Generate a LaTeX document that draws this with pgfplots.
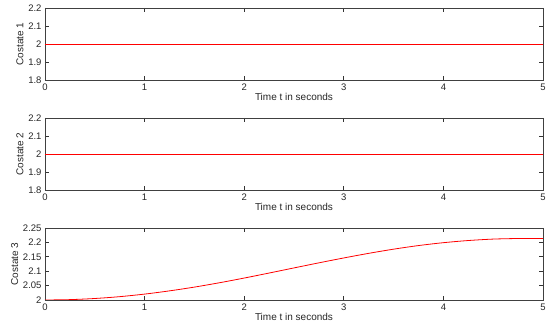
\documentclass[border=0pt]{standalone}
\usepackage{pgfplots}
\pgfplotsset{compat=1.18}
\usepackage{fontspec}
\setmainfont{Liberation Sans}
\pgfplotsset{
  panel/.style={
    width=498pt, height=72pt, scale only axis,
    xmin=0, xmax=5,
    xtick={0,1,2,3,4,5},
    tick align=inside,
    major tick length=4pt,
    tick style={color=black!80, line width=0.6pt},
    axis line style={color=black!75, line width=0.8pt},
    every tick label/.append style={font=\fontsize{9.5}{10}\selectfont, text=black!85},
    label style={font=\fontsize{10}{11}\selectfont, text=black!85},
    /pgf/number format/assume math mode=true,
    xlabel={Time t in seconds},
    xlabel style={yshift=4pt},
    ylabel style={yshift=-2pt},
    anchor=north west,
    clip=true,
  }
}
\begin{document}
\begin{tikzpicture}
\useasboundingbox (0pt,0pt) rectangle (550pt,-331pt);
\begin{axis}[panel, at={(45pt,-8pt)}, ymin=1.8, ymax=2.2, ytick={1.8,1.9,2,2.1,2.2}, ylabel={Costate 1}]
\addplot[red, line width=0.8pt] coordinates {(0,2) (5,2)};
\end{axis}
\begin{axis}[panel, at={(45pt,-118pt)}, ymin=1.8, ymax=2.2, ytick={1.8,1.9,2,2.1,2.2}, ylabel={Costate 2}]
\addplot[red, line width=0.8pt] coordinates {(0,2) (5,2)};
\end{axis}
\begin{axis}[panel, at={(45pt,-228pt)}, ymin=2, ymax=2.25, ytick={2,2.05,2.1,2.15,2.2,2.25}, ylabel={Costate 3}]
\addplot[red, line width=0.8pt, smooth] coordinates {
(0,2.000) (0.25,2.0013) (0.5,2.0052) (0.75,2.0116) (1.0,2.0205)
(1.25,2.0317) (1.5,2.0448) (1.75,2.0598) (2.0,2.0762) (2.25,2.0936)
(2.5,2.1114) (2.75,2.1290) (3.0,2.1460) (3.25,2.1620) (3.5,2.1765)
(3.75,2.1890) (4.0,2.1990) (4.25,2.2065) (4.5,2.2115) (4.75,2.2135) (5.0,2.2138)
};
\end{axis}
\end{tikzpicture}
\end{document}
